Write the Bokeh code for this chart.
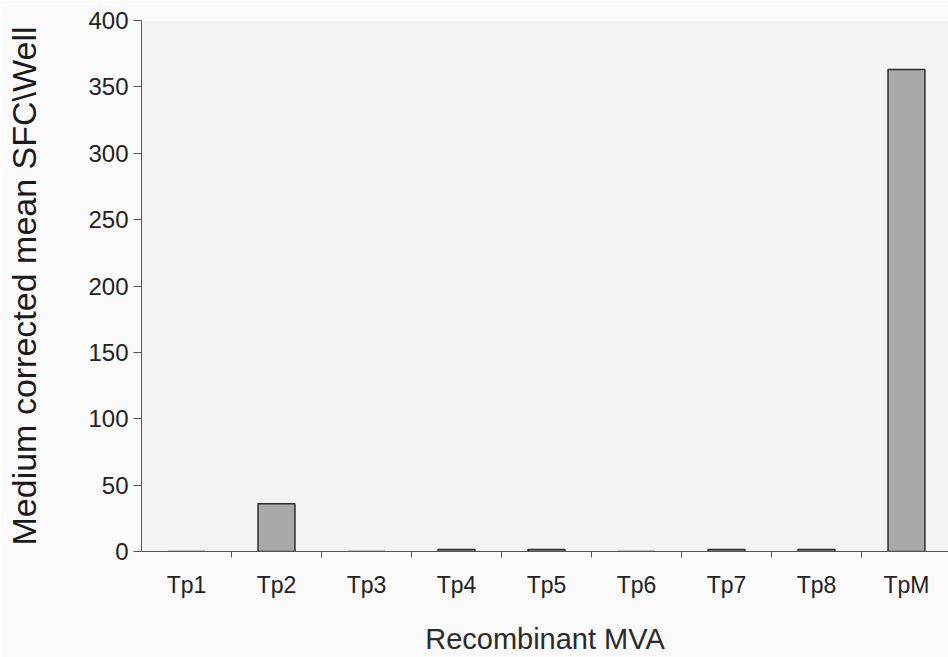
from bokeh.plotting import figure
from bokeh.models import Range1d, FixedTicker, ColumnDataSource
from bokeh.embed import file_html
from bokeh.resources import INLINE

categories = ["Tp1", "Tp2", "Tp3", "Tp4", "Tp5", "Tp6", "Tp7", "Tp8", "TpM"]
values = [0, 36, 0, 1.5, 1.5, 0, 1.5, 1.5, 363]
y_ticks = [0, 50, 100, 150, 200, 250, 300, 350, 400]

centers = [i + 0.5 for i in range(len(categories))]
bounds = [i for i in range(1, len(categories))]

src = ColumnDataSource(dict(x=centers, top=values, cat=categories))

p = figure(width=948, height=657, output_backend="svg", toolbar_location=None,
           x_range=Range1d(0, 8.967), y_range=Range1d(0, 400),
           min_border_left=141, min_border_right=0, min_border_top=20, min_border_bottom=106,
           background_fill_color="#f3f3f3", border_fill_color="#fafafa")
p.outline_line_color = None
p.grid.visible = False

p.vbar(x="x", top="top", width=0.41, bottom=0, source=src,
       fill_color="#a9a9a9", line_color="#2e2e2e", line_width=1.5)

font = "Liberation Sans"
xa = p.xaxis[0]
xa.ticker = FixedTicker(ticks=centers, minor_ticks=bounds)
xa.major_label_overrides = {c: lab for c, lab in zip(centers, categories)}
xa.major_tick_out = 0
xa.major_tick_in = 0
xa.minor_tick_out = 6
xa.minor_tick_in = 0
xa.minor_tick_line_color = "#555555"
xa.axis_line_color = "#555555"
xa.major_label_standoff = 14
xa.major_label_text_font = font
xa.major_label_text_font_size = "23px"
xa.major_label_text_color = "#222222"
xa.axis_label = "Recombinant MVA"
xa.axis_label_text_font = font
xa.axis_label_text_font_size = "29px"
xa.axis_label_text_font_style = "normal"
xa.axis_label_text_color = "#2a2a2a"
xa.axis_label_standoff = 22

ya = p.yaxis[0]
ya.ticker = FixedTicker(ticks=y_ticks)
ya.minor_tick_line_color = None
ya.major_tick_out = 8
ya.major_tick_in = 0
ya.major_tick_line_color = "#555555"
ya.axis_line_color = "#555555"
ya.major_label_standoff = 5
ya.major_label_text_font = font
ya.major_label_text_font_size = "24px"
ya.major_label_text_color = "#222222"
ya.axis_label = "Medium corrected mean SFC\\Well"
ya.axis_label_text_font = font
ya.axis_label_text_font_size = "34px"
ya.axis_label_text_font_style = "normal"
ya.axis_label_text_color = "#1a1a1a"
ya.axis_label_standoff = 42

open("out.html", "w").write(file_html(p, INLINE))
